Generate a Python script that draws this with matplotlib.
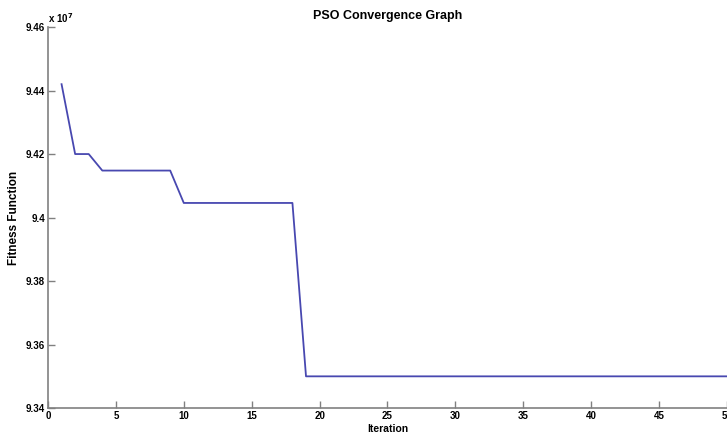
import matplotlib
matplotlib.use('Agg')
import matplotlib.pyplot as plt

# PSO convergence data (fitness in units of 1e7)
iterations = list(range(1, 51))
fitness = ([9.442, 9.420, 9.420] + [9.4148] * 6 + [9.4046] * 9 + [9.350] * 32)

x_ticks = [0, 5, 10, 15, 20, 25, 30, 35, 40, 45, 50]
y_ticks = [9.34, 9.36, 9.38, 9.40, 9.42, 9.44, 9.46]
y_tick_labels = ['9.34', '9.36', '9.38', '9.4', '9.42', '9.44', '9.46']

plt.rcParams['font.family'] = ['Liberation Sans', 'DejaVu Sans']
plt.rcParams['font.weight'] = 'bold'

fig = plt.figure(figsize=(7.27, 4.36), dpi=100)
ax = fig.add_axes([0.066, 0.064, 0.934, 0.874])

ax.plot(iterations, fitness, color='#4848b0', linewidth=1.3)

ax.set_xlim(0, 50)
ax.set_ylim(9.34, 9.46)
ax.set_xticks(x_ticks)
ax.set_yticks(y_ticks)
ax.set_yticklabels(y_tick_labels)

for side in ['top', 'right']:
    ax.spines[side].set_visible(False)
for side in ['left', 'bottom']:
    ax.spines[side].set_color('#808080')
    ax.spines[side].set_linewidth(1.2)

ax.tick_params(direction='in', length=5, width=1, color='#808080',
               labelsize=7, pad=2)
for lbl in ax.get_xticklabels() + ax.get_yticklabels():
    lbl.set_fontweight('bold')

ax.set_title('PSO Convergence Graph', fontsize=9, fontweight='bold', pad=6)
ax.set_xlabel('Iteration', fontsize=7.5, fontweight='bold', labelpad=2)
ax.set_ylabel('Fitness Function', fontsize=8.5, fontweight='bold', labelpad=4)
ax.text(0.0, 1.005, 'x 10$^{7}$', transform=ax.transAxes, fontsize=7,
        fontweight='bold', ha='left', va='bottom')

fig.savefig('out.png', dpi=100)
